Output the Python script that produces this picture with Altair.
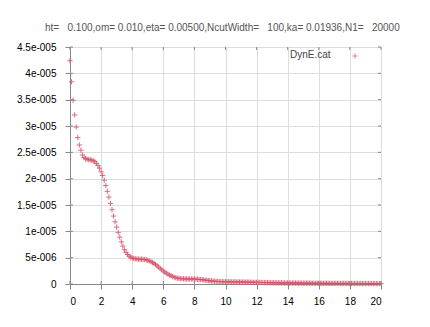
import altair as alt
import pandas as pd

# ---- data ----
X_STEP = 0.1  # sampling step of the curve, x from 0 to 20
# DynE values in units of 1e-6
dyne_e6 = [
    42.4, 38.4, 34.9, 32.1, 29.8, 27.8, 26.4, 25.4, 24.5, 24.0,
    23.8, 23.7, 23.6, 23.6, 23.5, 23.4, 23.2, 22.9, 22.5, 22.0,
    21.3, 20.6, 19.7, 18.7, 17.6, 16.5, 15.3, 14.1, 12.9, 11.8,
    10.8, 9.8, 8.9, 8.0, 7.2, 6.5, 6.0, 5.6, 5.3, 5.1,
    4.95, 4.85, 4.8, 4.75, 4.72, 4.7, 4.7, 4.68, 4.65, 4.6,
    4.5, 4.4, 4.25, 4.1, 3.9, 3.7, 3.45, 3.2, 2.95, 2.7,
    2.45, 2.25, 2.05, 1.85, 1.7, 1.55, 1.4, 1.3, 1.2, 1.12,
    1.06, 1.02, 1.0, 0.98, 0.97, 0.96, 0.96, 0.95, 0.95, 0.94,
    0.93, 0.92, 0.9, 0.88, 0.85, 0.82, 0.78, 0.74, 0.7, 0.66,
    0.62, 0.58, 0.55, 0.52, 0.5, 0.48, 0.46, 0.45, 0.44, 0.43,
    0.42, 0.42, 0.41, 0.41, 0.40, 0.40, 0.39, 0.39, 0.38, 0.38,
    0.37, 0.37, 0.36, 0.35, 0.35, 0.34, 0.33, 0.33, 0.32, 0.31,
    0.31, 0.30, 0.29, 0.29, 0.28, 0.27, 0.27, 0.26, 0.25, 0.25,
    0.24, 0.24, 0.23, 0.23, 0.22, 0.22, 0.21, 0.21, 0.20, 0.20,
    0.19, 0.19, 0.19, 0.18, 0.18, 0.18, 0.17, 0.17, 0.17, 0.16,
    0.16, 0.16, 0.16, 0.15, 0.15, 0.15, 0.15, 0.14, 0.14, 0.14,
    0.14, 0.14, 0.13, 0.13, 0.13, 0.13, 0.13, 0.12, 0.12, 0.12,
    0.12, 0.12, 0.12, 0.11, 0.11, 0.11, 0.11, 0.11, 0.11, 0.10,
    0.10, 0.10, 0.10, 0.10, 0.10, 0.10, 0.09, 0.09, 0.09, 0.09,
    0.09, 0.09, 0.09, 0.09, 0.08, 0.08, 0.08, 0.08, 0.08, 0.08,
    0.08,
]
x_ticks = [0, 2, 4, 6, 8, 10, 12, 14, 16, 18, 20]
y_ticks = [0, 5, 10, 15, 20, 25, 30, 35, 40, 45]
y_tick_labels = ["0", "5e-006", "1e-005", "1.5e-005", "2e-005", "2.5e-005",
                 "3e-005", "3.5e-005", "4e-005", "4.5e-005"]
title_text = ("ht=\u00a0\u00a0 0.100,om= 0.010,eta= 0.00500,NcutWidth=\u00a0\u00a0 100,"
              "ka= 0.01936,N1=\u00a0\u00a0 20000")
legend_label = "DynE.cat"

W, H = 311, 237
FONT = "Liberation Sans"
PT_COLOR = "#d8506a"
PLUS = "M-1,0H1M0,-1V1"

df = pd.DataFrame({"x": [round(i * X_STEP, 1) for i in range(len(dyne_e6))],
                   "y": dyne_e6})
xt = pd.DataFrame({"x": x_ticks})
yt = pd.DataFrame({"y": y_ticks})

labels_js = "[" + ",".join("'" + s + "'" for s in y_tick_labels) + "]"

xscale = alt.Scale(domain=[0, 20], nice=False, zero=False)
yscale = alt.Scale(domain=[0, 45], nice=False)
xaxis = alt.Axis(values=x_ticks, title=None, labelPadding=7)
yaxis = alt.Axis(values=y_ticks, title=None, labelPadding=9,
                 labelExpr=labels_js + "[round(datum.value/5)]")

points = alt.Chart(df).mark_point(
    shape=PLUS, size=28, filled=False, strokeWidth=1, color=PT_COLOR, opacity=0.85
).encode(
    x=alt.X("x:Q", scale=xscale, axis=xaxis),
    y=alt.Y("y:Q", scale=yscale, axis=yaxis),
)

tick_style = dict(color="#888", strokeWidth=1)
bottom_ticks = alt.Chart(xt).mark_rule(**tick_style).encode(
    x=alt.X("x:Q", scale=xscale, axis=xaxis), y=alt.value(H), y2=alt.value(H - 3))
top_ticks = alt.Chart(xt).mark_rule(**tick_style).encode(
    x=alt.X("x:Q", scale=xscale, axis=xaxis), y=alt.value(0), y2=alt.value(3))
left_ticks = alt.Chart(yt).mark_rule(**tick_style).encode(
    y=alt.Y("y:Q", scale=yscale, axis=yaxis), x=alt.value(0), x2=alt.value(3))
right_ticks = alt.Chart(yt).mark_rule(**tick_style).encode(
    y=alt.Y("y:Q", scale=yscale, axis=yaxis), x=alt.value(W), x2=alt.value(W - 3))

title = alt.Chart(pd.DataFrame({"t": [title_text]})).mark_text(
    font=FONT, fontSize=10, color="#555", align="left", baseline="middle"
).encode(text="t:N", x=alt.value(-25), y=alt.value(-19))

leg_text = alt.Chart(pd.DataFrame({"t": [legend_label]})).mark_text(
    font=FONT, fontSize=10, color="#444", align="left", baseline="middle"
).encode(text="t:N", x=alt.value(220), y=alt.value(8))
leg_sym = alt.Chart(pd.DataFrame({"t": [legend_label]})).mark_point(
    shape=PLUS, size=28, filled=False, strokeWidth=1, color=PT_COLOR
).encode(x=alt.value(285), y=alt.value(9))

chart = alt.layer(
    points, bottom_ticks, top_ticks, left_ticks, right_ticks, title, leg_text, leg_sym
).properties(
    width=W, height=H,
    autosize=alt.AutoSizeParams(type="none"),
    padding={"left": 62, "top": 39, "right": 41, "bottom": 35},
).configure_view(stroke="#aaa", strokeWidth=1).configure_axis(
    ticks=False, grid=False, labelFont=FONT, labelFontSize=10, labelColor="#444",
    domainColor="#777", labelFlush=False, labelOverlap=False, labelBound=False,
).configure(background="white")

chart.save("out.html", embed_options={"renderer": "svg", "actions": False})
